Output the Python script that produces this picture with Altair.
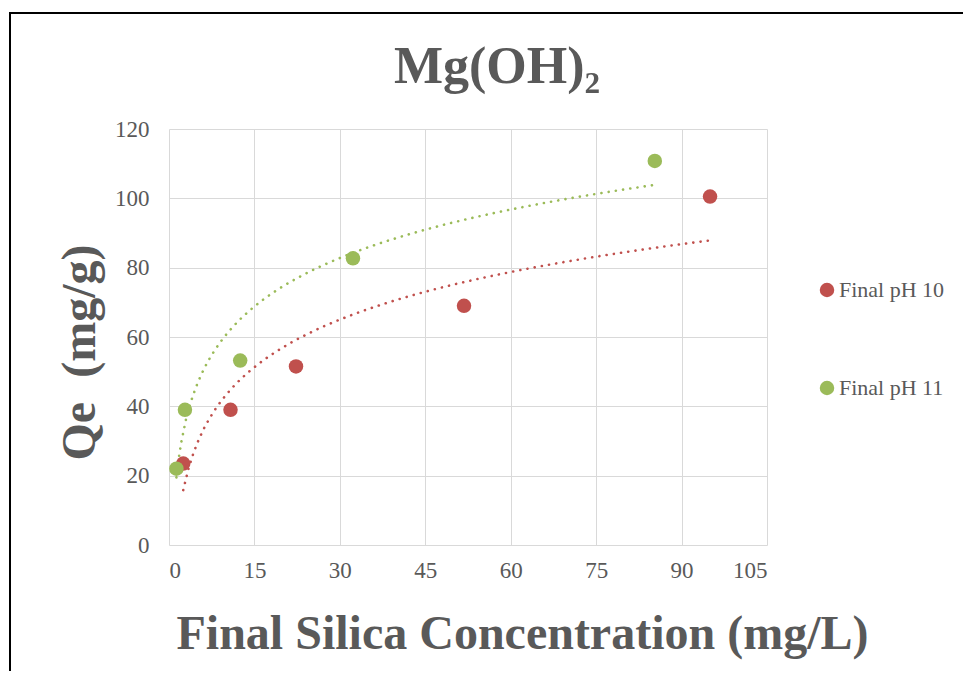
import altair as alt
import pandas as pd

series_names = ["Final pH 10", "Final pH 11"]
colors = ["#C0504D", "#9BBB59"]

ph10_x = [2.5, 10.8, 22.3, 51.8, 95.0]
ph10_y = [23.5, 39.0, 51.5, 69.0, 100.5]
ph11_x = [1.3, 2.8, 12.5, 32.3, 85.3]
ph11_y = [22.0, 39.0, 53.2, 82.7, 110.8]

x_ticks = [0, 15, 30, 45, 60, 75, 90, 105]
y_ticks = [0, 20, 40, 60, 80, 100, 120]

chart_title = "Mg(OH)₂"

df = pd.DataFrame({
    "x": ph10_x + ph11_x,
    "y": ph10_y + ph11_y,
    "series": [series_names[0]] * len(ph10_x) + [series_names[1]] * len(ph11_x),
})

FONT = "Liberation Serif"
GREY = "#595959"

xscale = alt.Scale(domain=[0, 105], nice=False)
yscale = alt.Scale(domain=[0, 120], nice=False)

xaxis = alt.Axis(values=x_ticks, title="Final Silica Concentration (mg/L)",
                 domain=False, ticks=False, grid=True, gridColor="#D9D9D9",
                 labelFont=FONT, labelFontSize=23, labelColor=GREY, labelPadding=14,
                 titleFont=FONT, titleFontSize=48, titleFontWeight="bold", titleColor=GREY,
                 titlePadding=28, titleX=353)
yaxis = alt.Axis(values=y_ticks, title="Qe\u00a0\u00a0(mg/g)",
                 domain=False, ticks=False, grid=True, gridColor="#D9D9D9",
                 labelFont=FONT, labelFontSize=23, labelColor=GREY, labelPadding=20,
                 titleFont=FONT, titleFontSize=48, titleFontWeight="bold", titleColor=GREY,
                 titlePadding=10, titleY=223)

points = alt.Chart(df).mark_circle(size=210, opacity=1).encode(
    x=alt.X("x:Q", scale=xscale, axis=xaxis),
    y=alt.Y("y:Q", scale=yscale, axis=yaxis),
    color=alt.Color("series:N",
                    scale=alt.Scale(domain=series_names, range=colors),
                    legend=alt.Legend(title=None, orient="none", legendX=647, legendY=150,
                                      symbolType="circle", symbolSize=210,
                                      labelFont=FONT, labelFontSize=22, labelColor=GREY,
                                      rowPadding=76, padding=0, labelOffset=1)),
)

trend = alt.Chart(df).transform_regression(
    "x", "y", method="log", groupby=["series"]
).transform_calculate(
    s2="datum.series"
).mark_line(strokeWidth=2.6, strokeDash=[0.1, 7.2], strokeCap="round").encode(
    x=alt.X("x:Q", scale=xscale),
    y=alt.Y("y:Q", scale=yscale),
    color=alt.Color("s2:N", scale=alt.Scale(domain=series_names, range=colors), legend=None),
)

border = alt.Chart(df).mark_rect(fill=None, stroke="black", strokeWidth=2, clip=False).encode(
    x=alt.value(-159), x2=alt.value(900), y=alt.value(-116), y2=alt.value(700)
)

title_text = alt.Chart(pd.DataFrame({"t": [chart_title]})).mark_text(
    font=FONT, fontSize=52, fontWeight="bold", color=GREY,
    align="center", baseline="alphabetic", clip=False
).encode(text="t:N", x=alt.value(328), y=alt.value(-46))

chart = alt.layer(trend, points, border, title_text).resolve_scale(color="independent").properties(
    width=598, height=416,
    padding={"left": 161, "top": 121, "right": 196, "bottom": 126},
    autosize="none",
).configure_view(stroke=None)

chart.save("out.html", embed_options={"renderer": "svg", "actions": False})
